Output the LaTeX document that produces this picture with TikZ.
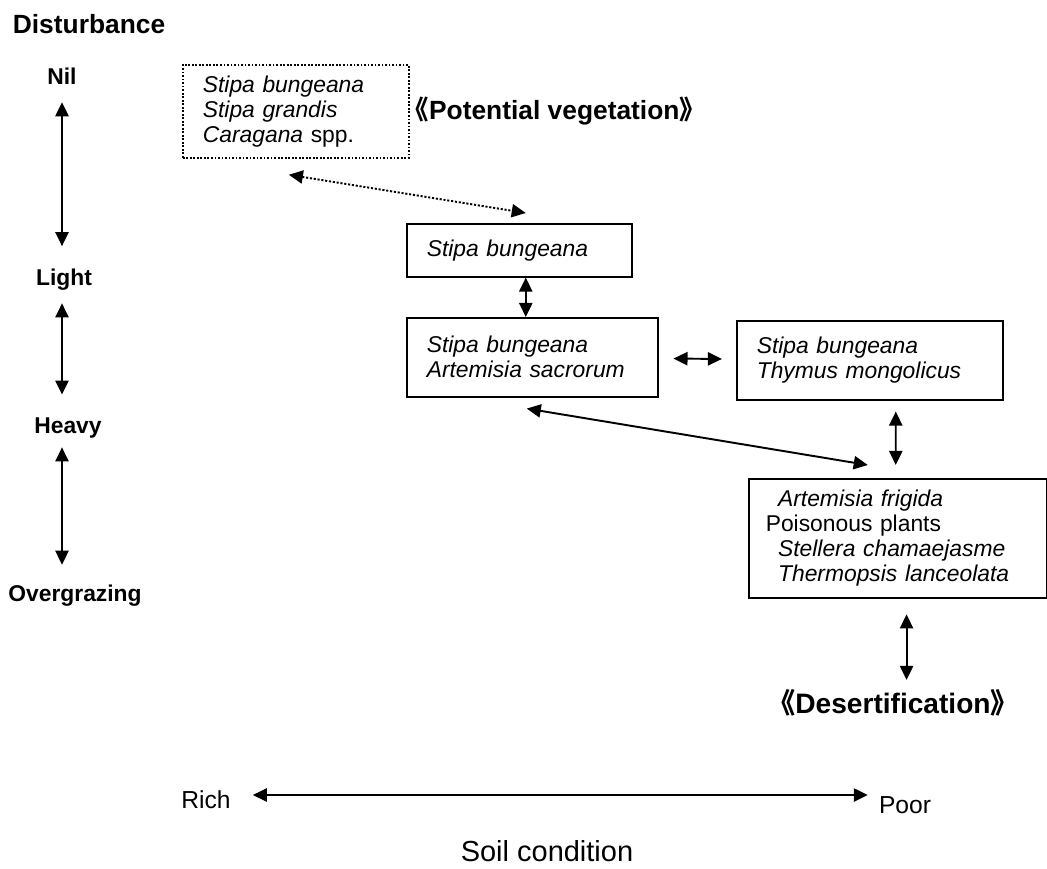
\documentclass[tikz,border=0pt]{standalone}
\usepackage{fontspec}
\setmainfont{Liberation Sans}
\newfontfamily\cjk[RawFeature=+palt]{Noto Sans CJK JP}
\usetikzlibrary{arrows.meta, positioning, calc}

\begin{document}
\begin{tikzpicture}[
    x=0.02cm, y=-0.02cm,
    >={Triangle[length=8pt, width=7.5pt]},
    lvl/.style={font=\bfseries\fontsize{13}{15}\selectfont, inner sep=2pt},
    spbox/.style={draw, line width=0.9pt, anchor=north west, align=left, inner xsep=0.4cm, inner ysep=0pt, font=\itshape\fontsize{13}{14.2}\selectfont},
    stage/.style={font=\bfseries\fontsize{16}{18}\selectfont},
    link/.style={<->, line width=1.1pt},
    axislink/.style={link, shorten <=5pt, shorten >=11pt},
  ]
  \useasboundingbox (0,0) rectangle (1047,868);

  % disturbance axis
  \node[lvl, font=\bfseries\fontsize{15}{17}\selectfont, anchor=west] (dist) at (9,24) {Disturbance};
  \node[lvl] (nil) at (62,76) {Nil};
  \node[lvl] (light) at (64,280) {Light};
  \node[lvl] (heavy) at (68,428) {Heavy};
  \node[lvl] (over) at (75,596) {Overgrazing};
  \draw[axislink, shorten <=8pt] (nil.south) -- (light.north -| nil);
  \draw[axislink] (light.south -| nil) -- (heavy.north -| nil);
  \draw[axislink, shorten <=3pt, shorten >=9.5pt] (heavy.south -| nil) -- (over.north -| nil);

  % vegetation stages
  \node[spbox, dash pattern=on 1pt off 1pt, line width=1pt, text width=3.72cm, minimum height=1.86cm] (pot) at (182,64)
    {Stipa bungeana\\Stipa grandis\\Caragana \upshape spp.};
  \node[stage, font=\bfseries\fontsize{15}{17}\selectfont, right=0pt of pot] (potlab) {{\cjk 《}Potential vegetation{\cjk 》}};
  \node[spbox, text width=3.7cm, minimum height=1.06cm] (sb) at (406,223) {Stipa bungeana};
  \node[spbox, text width=4.22cm, minimum height=1.58cm] (sbas) at (406,317) {Stipa bungeana\\Artemisia sacrorum};
  \node[spbox, text width=4.52cm, minimum height=1.58cm] (sbtm) at (736,320) {Stipa bungeana\\Thymus mongolicus};
  \node[spbox, inner xsep=0.34cm, text width=5.28cm, minimum height=2.38cm] (frig) at (748,478)
    {\hspace*{7pt}Artemisia frigida\\\upshape Poisonous plants\\\hspace*{7pt}\itshape Stellera chamaejasme\\\hspace*{7pt}Thermopsis lanceolata};
  \node[stage] (desert) at (893,703) {{\cjk 《}Desertification{\cjk 》}};

  \draw[link, dash pattern=on 1.2pt off 1pt] ([shift={(-7,16)}]pot.south) -- ([shift={(6.5,-10)}]sb.north);
  \draw[link] ([xshift=3.7pt]sb.south) -- ([xshift=3.7pt]sb.south |- sbas.north);
  \draw[link, shorten <=8.5pt, shorten >=8pt] (sbas) -- (sbtm);
  \draw[link] ([shift={(-5.5,11)}]sbas.south) -- ([shift={(-30,-13)}]frig.north);
  \draw[link] ([shift={(26,11)}]sbtm.south) -- ([shift={(-2,-13)}]frig.north);
  \draw[link, shorten <=9pt, shorten >=2pt] ([xshift=5pt]frig.south) -- ([xshift=5pt]frig.south |- desert.north);

  % soil axis
  \node[font=\fontsize{14}{16}\selectfont] (rich) at (206,800) {Rich};
  \node[font=\fontsize{14}{16}\selectfont] (poor) at (905,805) {Poor};
  \node[font=\fontsize{16.5}{19}\selectfont] (soil) at (547,851) {Soil condition};
  \draw[link] ([shift={(16,-5)}]rich.east) -- ([shift={(-5,-10)}]poor.west);
\end{tikzpicture}
\end{document}
